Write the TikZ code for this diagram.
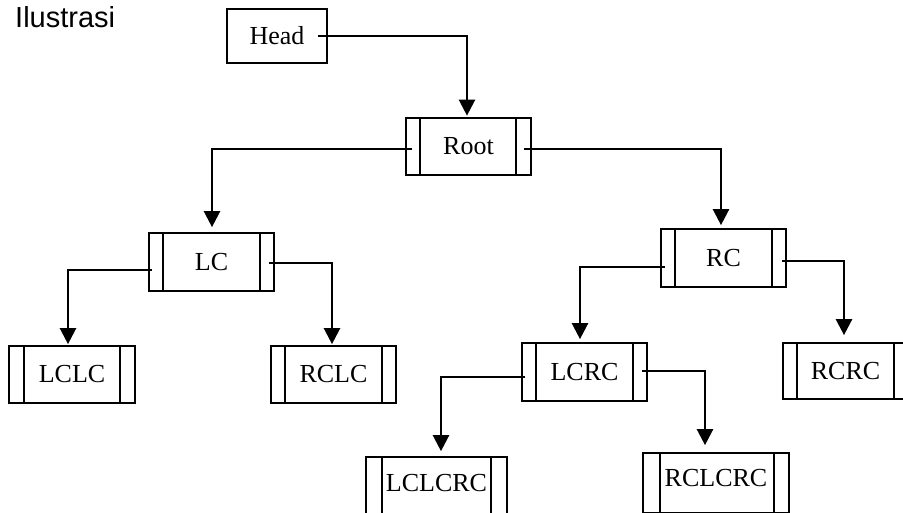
\documentclass[tikz,border=0pt]{standalone}
\usepackage{fontspec}
\setmainfont{Liberation Serif}
\newfontfamily\titlefont{Liberation Sans}
\usetikzlibrary{arrows.meta}

\begin{document}
\begin{tikzpicture}[x=1pt,y=-1pt,
  cell/.style={draw, line width=1.7pt, minimum width=125pt, minimum height=57pt,
               inner sep=0pt, font=\fontsize{26}{26}\selectfont},
  divider/.style={line width=1.7pt},
  link/.style={line width=2.4pt, -{Triangle[width=16pt,length=16pt]}},
]
\clip (0,0) rectangle (903,512);
\fill[white] (0,0) rectangle (903,512);

% title
\node[anchor=base west, inner sep=0pt, font=\titlefont\fontsize{29}{29}\selectfont]
  (title) at (15,27) {Ilustrasi};

% tree nodes
\node[cell, minimum width=100pt, minimum height=54pt] (head) at (277,36) {Head};
\node[cell] (root) at (468.5,146.5) {Root};
\node[cell, minimum height=58pt] (lc) at (211.5,262) {LC};
\node[cell, minimum height=58pt] (rc) at (723.5,258) {RC};
\node[cell, minimum width=126pt] (lclc) at (72,374.5) {LCLC};
\node[cell] (rclc) at (333.5,374.5) {RCLC};
\node[cell, minimum height=58pt] (lcrc) at (584.5,372) {LCRC};
\node[cell, minimum height=56pt] (rcrc) at (845.5,371) {RCRC};
\node[cell, minimum width=141pt, minimum height=58pt, text depth=6pt] (lclcrc) at (436.5,486) {LCLCRC};
\node[cell, minimum width=146pt, minimum height=60pt, text depth=10pt] (rclcrc) at (716,483) {RCLCRC};

% pointer compartments on both sides of each tree node
\foreach \n/\a/\b in {root/15/16, lc/15/15, rc/15/15, lclc/16/16, rclc/15/15,
                      lcrc/15/15, rcrc/15/15, lclcrc/17/17, rclcrc/18/16}{
  \draw[divider] ([xshift=\a pt]\n.north west) -- ([xshift=\a pt]\n.south west)
                 ([xshift=-\b pt]\n.north east) -- ([xshift=-\b pt]\n.south east);
}

% pointers
\draw[link, shorten >=1.5pt] ([xshift=-10pt]head.east) -| ([xshift=-1.5pt]root.north);
\draw[link, shorten >=5pt] ([xshift=7pt,yshift=-2.5pt]root.west) -| ([xshift=0.5pt]lc.north);
\draw[link, shorten >=3pt] ([xshift=-8pt,yshift=-2.5pt]root.east) -| ([xshift=-2.5pt]rc.north);
\draw[link, shorten >=1pt] ([xshift=4pt,yshift=-8pt]lc.west) -| ([xshift=-4pt]lclc.north);
\draw[link, shorten >=1pt] ([xshift=-6pt,yshift=-1pt]lc.east) -| ([xshift=-1.5pt]rclc.north);
\draw[link, shorten >=3pt] ([xshift=5pt,yshift=-9pt]rc.west) -| ([xshift=-4.5pt]lcrc.north);
\draw[link, shorten >=7pt] ([xshift=-5pt,yshift=-3pt]rc.east) -| ([xshift=-1.5pt]rcrc.north);
\draw[link, shorten >=5pt] ([xshift=4pt,yshift=-5pt]lcrc.west) -| ([xshift=4.5pt]lclcrc.north);
\draw[link, shorten >=7pt] ([xshift=-6pt,yshift=1pt]lcrc.east) -| ([xshift=-11pt]rclcrc.north);
\end{tikzpicture}
\end{document}
